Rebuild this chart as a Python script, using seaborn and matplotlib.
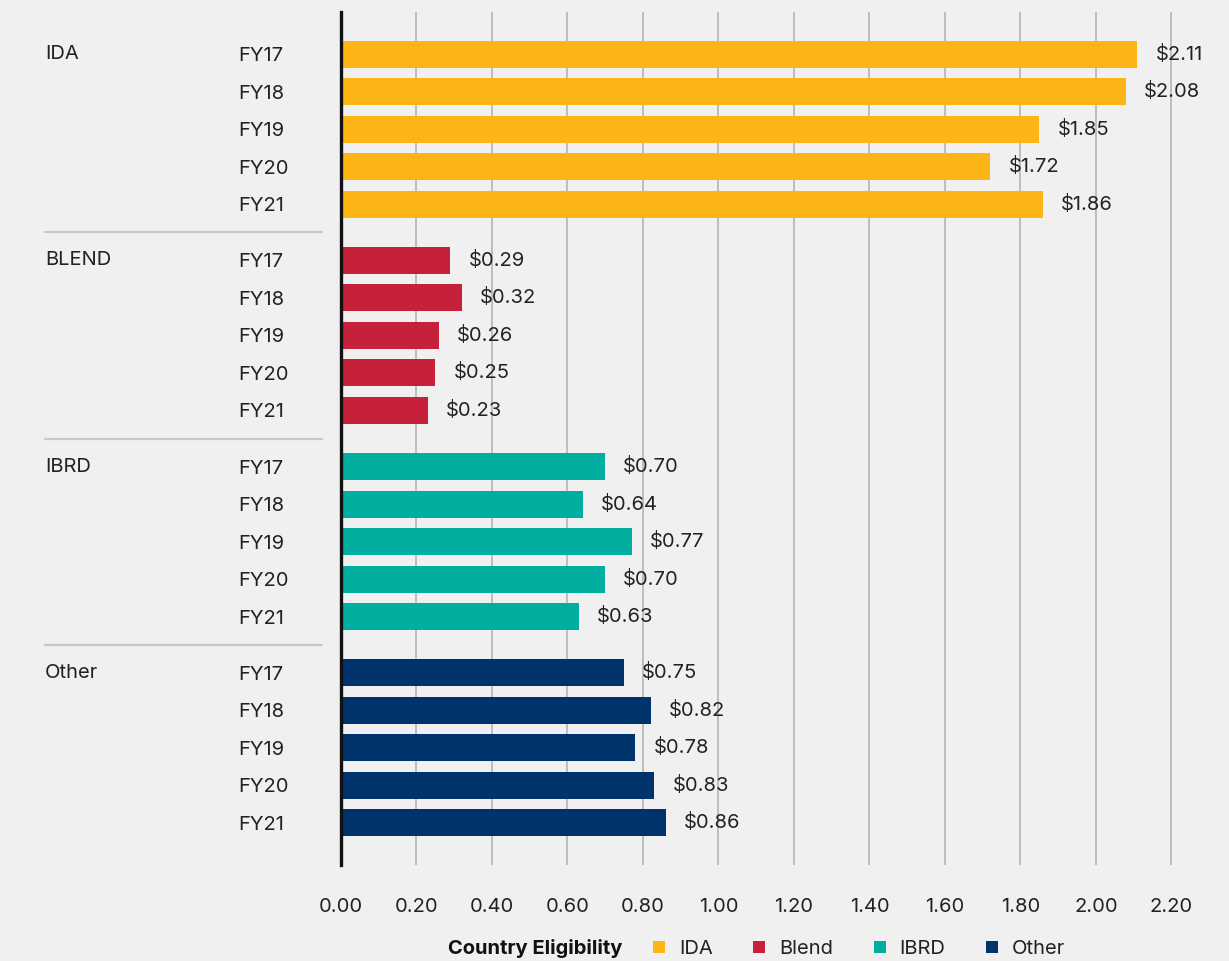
import matplotlib
matplotlib.use("Agg")
import matplotlib.pyplot as plt
import matplotlib.transforms as mtransforms
from matplotlib.patches import Patch
import seaborn as sns
import pandas as pd

# ---- data ----
groups = ["IDA", "Blend", "IBRD", "Other"]
group_labels = ["IDA", "BLEND", "IBRD", "Other"]
years = ["FY17", "FY18", "FY19", "FY20", "FY21"]
ida_values = [2.11, 2.08, 1.85, 1.72, 1.86]
blend_values = [0.29, 0.32, 0.26, 0.25, 0.23]
ibrd_values = [0.70, 0.64, 0.77, 0.70, 0.63]
other_values = [0.75, 0.82, 0.78, 0.83, 0.86]
x_ticks = [0.00, 0.20, 0.40, 0.60, 0.80, 1.00, 1.20, 1.40, 1.60, 1.80, 2.00, 2.20]
legend_title = "Country Eligibility"

colors = {"IDA": "#FDB515", "Blend": "#C6203A", "IBRD": "#00AFA0", "Other": "#00326B"}

sns.set_theme(style="white")
plt.rcParams["font.family"] = ["Inter", "DejaVu Sans"]

rows = []
all_vals = [ida_values, blend_values, ibrd_values, other_values]
for gi, (g, vals) in enumerate(zip(groups, all_vals)):
    for yi, (yr, v) in enumerate(zip(years, vals)):
        rows.append({"group": g, "year": yr, "value": v, "pos": gi * 5.5 + yi})
df = pd.DataFrame(rows)

bg = "#F0F0F0"
fig = plt.figure(figsize=(12.29, 9.61), dpi=100, facecolor=bg)
W, H = 1229, 961
left, right, top, bottom = 341, 1179, 12, 865
ax = fig.add_axes([left / W, 1 - bottom / H, (right - left) / W, (bottom - top) / H])
ax.set_facecolor(bg)

sns.barplot(data=df, x="value", y="pos", hue="group", palette=colors, orient="y",
            native_scale=True, dodge=False, width=0.72, legend=False, ax=ax,
            saturation=1, zorder=3, edgecolor="none", linewidth=0)

ax.set_xlim(0, 2.22)
ax.set_ylim(df["pos"].max() + 1.12, -1.12)
ax.set_xticks(x_ticks)
ax.set_xticklabels([f"{t:.2f}" for t in x_ticks], fontsize=14.5, color="#222222")
ax.tick_params(axis="x", length=0, pad=24)
ax.xaxis.grid(True, color="#BDBDBD", linewidth=1.4, zorder=0)
ax.set_axisbelow(True)
for s in ["top", "right", "bottom"]:
    ax.spines[s].set_visible(False)
ax.spines["left"].set_color("#111111")
ax.spines["left"].set_linewidth(2.4)
ax.spines["left"].set_zorder(5)
ax.set_xlabel("")
ax.set_ylabel("")

# year tick labels
ax.set_yticks(df["pos"].tolist())
ax.set_yticklabels(df["year"].tolist(), fontsize=14.5, color="#222222", ha="left")
ax.tick_params(axis="y", length=0, pad=(left - 238) * 72 / 100)

# value labels
for c in ax.containers:
    ax.bar_label(c, labels=[f"${b.get_width():.2f}" for b in c], padding=13,
                 fontsize=14.5, color="#222222")

# group labels and separators
trans = mtransforms.blended_transform_factory(fig.transFigure, ax.transData)
for gi, gl in enumerate(group_labels):
    ax.text(45 / W, gi * 5.5, gl, transform=trans, ha="left", va="center",
            fontsize=14.5, color="#222222")
    if gi > 0:
        ysep = gi * 5.5 - 0.75
        ax.plot([45 / W, 322 / W], [ysep, ysep], transform=trans, color="#C8C8C8",
                linewidth=1.6, clip_on=False)

# legend
fig.text(448 / W, 1 - 948 / H, legend_title, fontsize=14.5, fontweight="bold",
         ha="left", va="center", color="#111111")
handles = [Patch(facecolor=colors[g], edgecolor="none") for g in groups]
leg = fig.legend(handles, groups, loc="center left", bbox_to_anchor=(653 / W, 1 - 949 / H),
                 ncol=4, frameon=False, fontsize=14.5, handlelength=0.6, handleheight=0.6,
                 handletextpad=0.7, columnspacing=2.0, borderpad=0, borderaxespad=0)
for t in leg.get_texts():
    t.set_color("#222222")

fig.savefig("out.png", dpi=100, facecolor=bg)
